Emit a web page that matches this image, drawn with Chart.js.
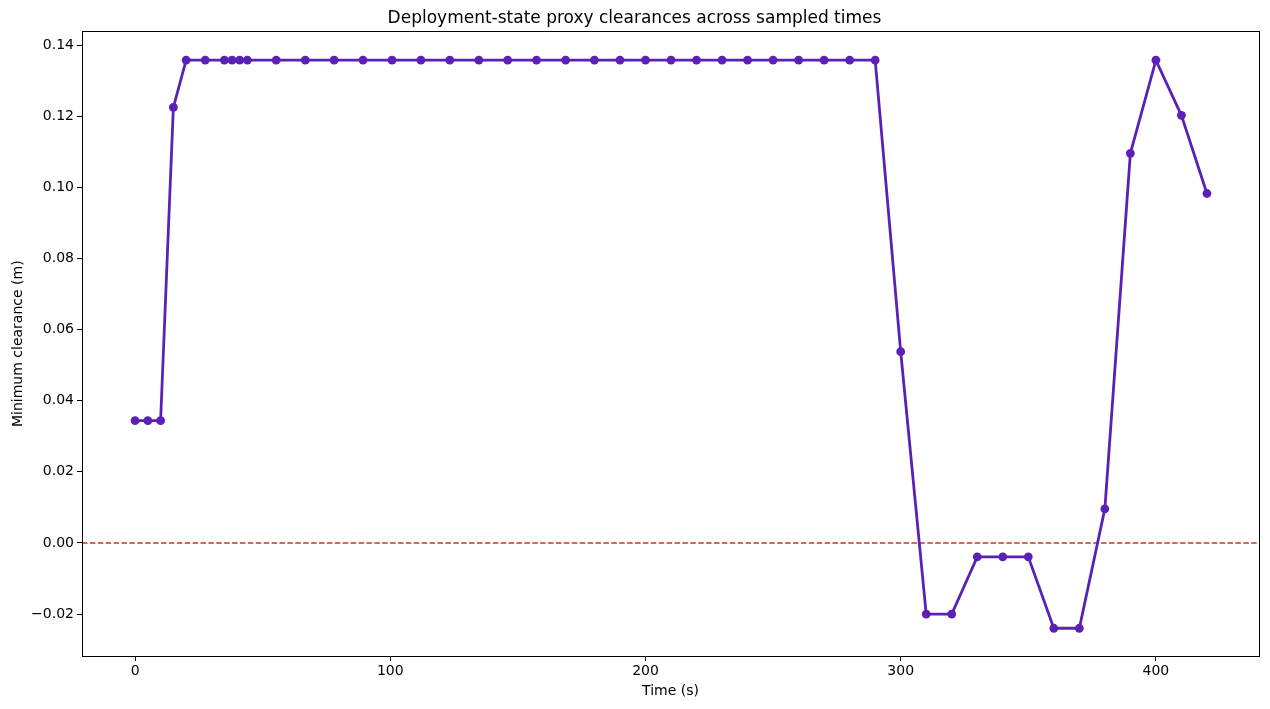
<!DOCTYPE html>
<html>
<head>
<meta charset="utf-8">
<script src="https://cdn.jsdelivr.net/npm/chart.js@4"></script>
<style>
  html, body { margin: 0; padding: 0; background: #fff; }
  #wrap { width: 1270px; height: 709px; }
</style>
</head>
<body>
<div id="wrap"><canvas id="grafico"></canvas></div>
<script>
// tempos amostrados (s)
const tempos = [0, 5, 10, 15, 20, 27.5, 35, 38, 41, 44, 55.3, 66.7, 78, 89.3, 100.7, 112, 123.3, 134.7,
  146, 157.3, 168.7, 180, 190, 200, 210, 220, 230, 240, 250, 260, 270, 280, 290,
  300, 310, 320, 330, 340, 350, 360, 370, 380, 390, 400, 410, 420];

// folga mínima (m)
const folgas = [0.0344, 0.0344, 0.0344, 0.1225, 0.1358, 0.1358, 0.1358, 0.1358, 0.1358, 0.1358,
  0.1358, 0.1358, 0.1358, 0.1358, 0.1358, 0.1358, 0.1358, 0.1358, 0.1358, 0.1358, 0.1358,
  0.1358, 0.1358, 0.1358, 0.1358, 0.1358, 0.1358, 0.1358, 0.1358, 0.1358, 0.1358, 0.1358, 0.1358,
  0.0538, -0.0200, -0.0200, -0.0039, -0.0039, -0.0039, -0.0240, -0.0240, 0.0096, 0.1096, 0.1358,
  0.1203, 0.0983];

const ticksX = [0, 100, 200, 300, 400];
const ticksY = [-0.02, 0, 0.02, 0.04, 0.06, 0.08, 0.10, 0.12, 0.14];

const limiteX = [-20.8, 440.4];
const limiteY = [-0.0318, 0.1439];

const fonte = "'DejaVu Sans', sans-serif";

// moldura completa do eixo, como no matplotlib
const moldura = {
  id: "moldura",
  afterDatasetsDraw(chart) {
    const a = chart.chartArea;
    const ctx = chart.ctx;
    ctx.save();
    ctx.strokeStyle = "#000";
    ctx.lineWidth = 1;
    ctx.strokeRect(Math.round(a.left) + 0.5, Math.round(a.top) + 0.5,
      Math.round(a.right - a.left), Math.round(a.bottom - a.top));
    ctx.restore();
  },
};

function formatoY(v) {
  const s = Math.abs(v).toFixed(2);
  return v < -1e-9 ? "\u2212" + s : s;
}

new Chart(document.getElementById("grafico"), {
  type: "scatter",
  data: {
    datasets: [
      {
        data: tempos.map((t, i) => ({ x: t, y: folgas[i] })),
        showLine: true,
        borderColor: "#5b21b6",
        borderWidth: 2.8,
        pointRadius: 4.4,
        pointHoverRadius: 4.4,
        pointBackgroundColor: "#5b21b6",
        pointBorderColor: "#5b21b6",
        pointBorderWidth: 0,
        tension: 0,
        order: 1,
      },
      {
        data: [{ x: limiteX[0], y: 0 }, { x: limiteX[1], y: 0 }],
        showLine: true,
        borderColor: "#c0392b",
        borderWidth: 1.6,
        borderDash: [5.5, 2.4],
        pointRadius: 0,
        order: 2,
      },
    ],
  },
  options: {
    responsive: true,
    maintainAspectRatio: false,
    animation: false,
    devicePixelRatio: 1,
    layout: { padding: { top: 0, right: 11, bottom: 9, left: 10 } },
    plugins: {
      legend: { display: false },
      tooltip: { enabled: false },
      title: {
        display: true,
        text: "Deployment-state proxy clearances across sampled times",
        color: "#000",
        font: { family: fonte, size: 17, weight: "normal" },
        padding: { top: 8, bottom: 3 },
      },
    },
    scales: {
      x: {
        type: "linear",
        min: limiteX[0],
        max: limiteX[1],
        afterBuildTicks: (s) => { s.ticks = ticksX.map((v) => ({ value: v })); },
        afterFit: (s) => { s.height = 44; },
        ticks: {
          color: "#000",
          font: { family: fonte, size: 14 },
          padding: 2,
          maxRotation: 0,
        },
        grid: { display: true, drawOnChartArea: false, drawTicks: true, tickLength: 5, color: "#000" },
        border: { display: true, color: "#000" },
        title: {
          display: true,
          text: "Time (s)",
          color: "#000",
          font: { family: fonte, size: 14 },
          padding: { top: 2, bottom: 0 },
        },
      },
      y: {
        type: "linear",
        min: limiteY[0],
        max: limiteY[1],
        afterBuildTicks: (s) => { s.ticks = ticksY.map((v) => ({ value: v })); },
        afterFit: (s) => { s.width = 72; },
        ticks: {
          color: "#000",
          font: { family: fonte, size: 14 },
          padding: 3,
          callback: formatoY,
        },
        grid: { display: true, drawOnChartArea: false, drawTicks: true, tickLength: 5, color: "#000" },
        border: { display: true, color: "#000" },
        title: {
          display: true,
          text: "Minimum clearance (m)",
          color: "#000",
          font: { family: fonte, size: 14 },
          padding: { top: 0, bottom: 6 },
        },
      },
    },
  },
  plugins: [moldura],
});
</script>
</body>
</html>
